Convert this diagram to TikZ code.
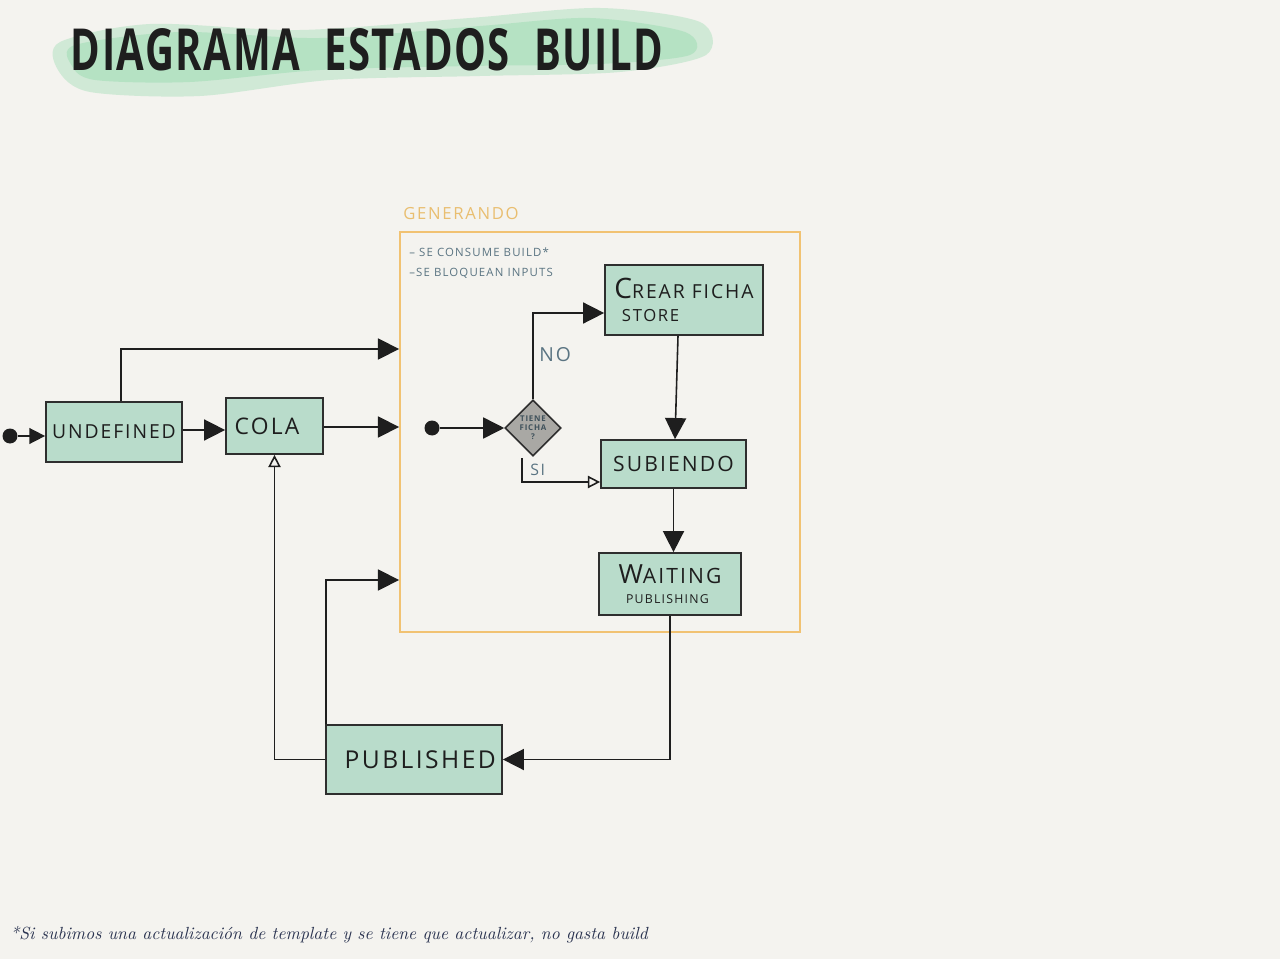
\documentclass[tikz,border=0pt]{standalone}
\usepackage{fontspec}
\usetikzlibrary{arrows.meta,shapes.geometric,calc}
\newfontfamily\hand[LetterSpace=10]{Open Sans}
\newfontfamily\titlefont[LetterSpace=4]{Open Sans}
\definecolor{bg}{HTML}{F4F3EF}
\definecolor{mint}{HTML}{B9DCCB}
\definecolor{edge}{HTML}{2E2E2E}
\definecolor{gold}{HTML}{F1C272}
\definecolor{goldtxt}{HTML}{E9BE70}
\definecolor{slate}{HTML}{5A7482}
\definecolor{ink}{HTML}{1E1E1E}
\definecolor{wash}{HTML}{8ED8A8}
\definecolor{dgray}{HTML}{A9A8A4}
\definecolor{navy}{HTML}{2A3350}
\tikzset{
  statebox/.style={draw=edge,line width=1pt,fill=mint,inner sep=0pt,text=ink,align=left,font=\hand},
  arr/.style={draw=ink,line width=0.9pt,-{Triangle[length=12pt,width=12pt]}},
  smallarr/.style={draw=ink,line width=0.9pt,-{Triangle[length=9pt,width=9pt]}},
  openarr/.style={draw=ink,line width=0.9pt,-{Triangle[open,length=7pt,width=7pt,fill=bg]}},
  dot/.style={circle,fill=ink,inner sep=0pt,minimum size=0.3cm},
  note/.style={text=slate,font=\hand,inner sep=0pt},
}
\begin{document}
\begin{tikzpicture}[x=0.02cm,y=-0.02cm]
\fill[bg] (0,0) rectangle (1280,959);
\useasboundingbox (0,0) rectangle (1280,959);

% title wash
\fill[wash,opacity=0.35] plot[smooth cycle] coordinates {(60,42) (150,24) (300,30) (470,18) (600,8) (700,22) (706,55) (620,72) (480,76) (330,80) (200,96) (90,92) (58,70)};
\fill[wash,opacity=0.4] plot[smooth cycle] coordinates {(75,45) (180,32) (320,38) (480,26) (590,18) (685,32) (690,55) (600,64) (470,66) (320,70) (190,82) (95,80) (72,66)};
\node[font=\titlefont\bfseries\fontsize{30}{30}\selectfont,text=ink,inner sep=0pt] (title) at (367,50) {\scalebox{0.76}[1.1]{DIAGRAMA\ \ ESTADOS\ \ BUILD}};

% generando container
\node[draw=gold,line width=1.1pt,minimum width=8cm,minimum height=8cm,inner sep=0pt] (gen) at (600,432) {};
\node[text=goldtxt,font=\hand\fontsize{9.5}{10}\selectfont,anchor=west,inner sep=0pt] (genlbl) at (403,214) {GENERANDO};
\node[note,font=\hand\fontsize{6.5}{7}\selectfont,anchor=west] (n1) at (409,252) {– SE CONSUME BUILD*};
\node[note,font=\hand\fontsize{6.5}{7}\selectfont,anchor=west] (n2) at (409,273) {–SE BLOQUEAN INPUTS};

% states
\node[statebox,minimum width=2.72cm,minimum height=1.2cm,font=\hand\fontsize{11}{12}\selectfont] (undef) at (114,432) {UNDEFINED};
\node[statebox,minimum width=1.94cm,minimum height=1.12cm,font=\hand\fontsize{13}{14}\selectfont] (cola) at (274.5,426) {\hspace*{-0.3cm}COLA};
\node[statebox,minimum width=3.16cm,minimum height=1.4cm,font=\hand\fontsize{11}{14}\selectfont] (crear) at (684,300) {{\fontsize{16}{14}\selectfont C}REAR FICHA\\[-1pt]\hspace*{0.15cm}{\fontsize{9.5}{12}\selectfont STORE}};
\node[statebox,minimum width=2.9cm,minimum height=0.96cm,font=\hand\fontsize{12}{13}\selectfont] (sub) at (673.5,464) {SUBIENDO};
\node[statebox,minimum width=2.84cm,minimum height=1.24cm,font=\hand\fontsize{12}{13}\selectfont] (wait) at (670,584) {{\fontsize{15}{13}\selectfont W}AITING\\[-2pt]\hspace*{0.15cm}{\fontsize{7}{9}\selectfont PUBLISHING}};
\node[statebox,minimum width=3.52cm,minimum height=1.38cm,font=\hand\fontsize{14}{15}\selectfont] (pub) at (414,759.5) {\hspace*{0.25cm}PUBLISHED};

% decision
\node[diamond,draw=edge,line width=0.9pt,fill=dgray,minimum width=1.12cm,minimum height=1.12cm,inner sep=0pt,align=center,text=slate!70!black,font=\hand\bfseries\fontsize{4.5}{5}\selectfont] (diam) at (533,428) {TIENE\\FICHA\\?};

% start dots
\node[dot] (s0) at (10,436) {};
\node[dot] (s1) at (432,428) {};

% helper coordinates
\coordinate (ytop) at (121,349);
\coordinate (ycola) at (0,427);
\coordinate (yno) at (0,313);
\coordinate (ysi) at (522,482);
\coordinate (yret) at (0,580);
\coordinate (yin) at (0,430);

% connectors
\draw[smallarr] (s0) -- (s0 -| undef.west);
\draw[arr] (undef.east |- yin) -- (yin -| cola.west);
\draw[arr] (ytop |- undef.north) -- (ytop) -- (ytop -| gen.west);
\draw[arr] (cola.east |- ycola) -- (ycola -| gen.west);
\draw[arr] (s1) -- (diam.west);
\draw[arr] (diam.north) |- (yno -| crear.west);
\node[note,font=\hand\fontsize{11}{12}\selectfont,anchor=west] (nolbl) at (539,355) {NO};
\draw[openarr] (522,458) -- (ysi) -- (ysi -| sub.west);
\node[note,font=\hand\fontsize{9}{10}\selectfont,anchor=west] (silbl) at (530,470) {SI};
\draw[arr] ([xshift=-0.12cm]crear.south) -- ([xshift=0.03cm]sub.north);
\draw[arr] (sub.south) -- (sub.south |- wait.north);
\draw[arr] (wait.south) |- (pub.east);
\draw[arr] ([xshift=0.02cm]pub.north west) |- (yret -| gen.west);
\draw[openarr] (pub.west) -| (cola.south);

% footnote
\node[anchor=west,text=navy,font=\itshape\fontsize{10}{11}\selectfont,inner sep=0pt] (foot) at (10,935) {*Si subimos una actualización de template y se tiene que actualizar, no gasta build};
\end{tikzpicture}
\end{document}
